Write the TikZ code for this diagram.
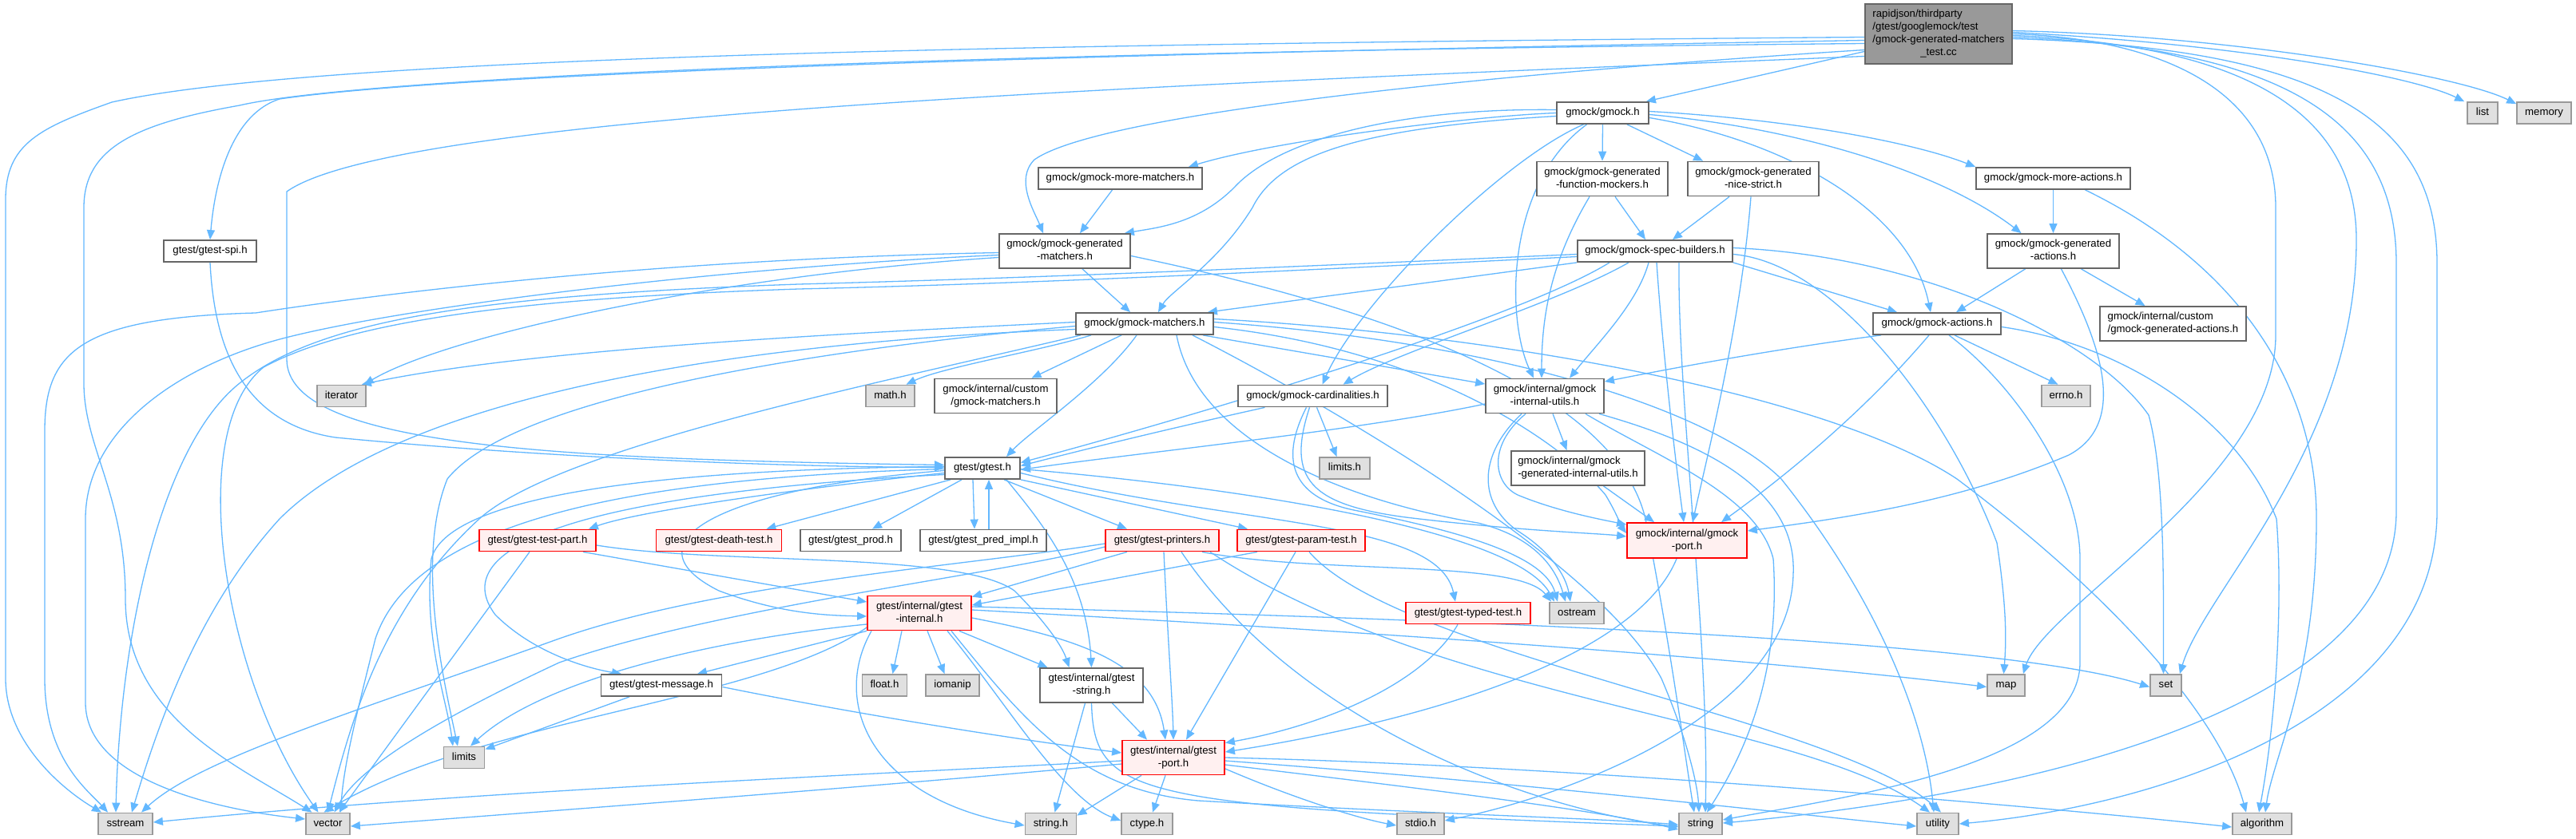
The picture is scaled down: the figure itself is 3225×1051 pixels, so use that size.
\documentclass[tikz,border=0pt]{standalone}
\usepackage{fontspec}
\setmainfont{Liberation Sans}
\usetikzlibrary{arrows.meta}
\pgfdeclarelayer{bg}
\pgfsetlayers{bg,main}
\definecolor{edgec}{HTML}{63B8FF}
\definecolor{boxline}{HTML}{666666}
\definecolor{grayfill}{HTML}{E0E0E0}
\definecolor{grayline}{HTML}{999999}
\definecolor{redline}{HTML}{FF0000}
\definecolor{redfill}{HTML}{FFF0F0}
\definecolor{mainfill}{HTML}{999999}
\newcommand{\twoln}[2]{\begin{tabular}{@{}l@{}}#1\\\multicolumn{1}{@{}c@{}}{#2}\end{tabular}}
\begin{document}
\begin{tikzpicture}[x=1pt,y=-1pt,
  nbase/.style={draw, line width=1.8pt, inner sep=0pt, font=\fontsize{13.2}{16}\selectfont, text=black},
  nw/.style={nbase, draw=boxline, fill=white},
  ng/.style={nbase, draw=grayline, fill=grayfill},
  nr/.style={nbase, draw=redline, fill=redfill},
  nm/.style={nbase, draw=boxline, fill=mainfill},
  sl/.style={text height=9.6pt, text depth=2.8pt},
  wh/.style 2 args={minimum width=#1pt, minimum height=#2pt},
  dep/.style={draw=edgec, line width=1.3pt, -{Triangle[length=12pt,width=10pt]}}]
\useasboundingbox (0,0) rectangle (3225,1051);

\node[nm,wh={184}{75}] (main) at (2427,42.5) {\begin{tabular}{@{}l@{}}rapidjson/thirdparty\\/gtest/googlemock/test\\/gmock-generated-matchers\\\multicolumn{1}{@{}c@{}}{\_test.cc}\end{tabular}};
\node[ng,sl,wh={38}{27}] (list) at (3108,141.5) {list};
\node[ng,sl,wh={68}{27}] (memory) at (3185,141.5) {memory};
\node[nw,sl,wh={115}{27}] (gmock) at (2006.5,141.5) {gmock/gmock.h};
\node[nw,sl,wh={205}{27}] (moremat) at (1402.5,223.5) {gmock/gmock-more-matchers.h};
\node[nw,wh={164}{43}] (funcmock) at (2006,224) {\twoln{gmock/gmock-generated}{-function-mockers.h}};
\node[nw,wh={164}{43}] (nicestrict) at (2195,224) {\twoln{gmock/gmock-generated}{-nice-strict.h}};
\node[nw,sl,wh={193}{27}] (moreact) at (2570.5,223.5) {gmock/gmock-more-actions.h};
\node[nw,wh={164}{43}] (genmat) at (1333,314.5) {\twoln{gmock/gmock-generated}{-matchers.h}};
\node[nw,sl,wh={194}{27}] (spec) at (2072,314.5) {gmock/gmock-spec-builders.h};
\node[nw,wh={165}{43}] (genact) at (2570.5,314.5) {\twoln{gmock/gmock-generated}{-actions.h}};
\node[nw,sl,wh={172}{27}] (gmat) at (1433,405.5) {gmock/gmock-matchers.h};
\node[nw,sl,wh={160}{27}] (gact) at (2425,405.5) {gmock/gmock-actions.h};
\node[nw,wh={183}{43}] (customact) at (2720.5,405.5) {\twoln{gmock/internal/custom}{/gmock-generated-actions.h}};
\node[ng,sl,wh={61}{27}] (iterator) at (427.5,496) {iterator};
\node[ng,sl,wh={61}{27}] (math) at (1114.5,496) {math.h};
\node[nw,wh={153}{43}] (custommat) at (1246.5,496) {\twoln{gmock/internal/custom}{/gmock-matchers.h}};
\node[nw,sl,wh={187}{27}] (card) at (1643.5,496) {gmock/gmock-cardinalities.h};
\node[nw,wh={148}{43}] (iutils) at (1934,496) {\twoln{gmock/internal/gmock}{-internal-utils.h}};
\node[ng,sl,wh={61}{27}] (errno) at (2586.5,496) {errno.h};
\node[nw,sl,wh={116}{27}] (spi) at (263,314.5) {gtest/gtest-spi.h};
\node[nw,sl,wh={94}{27}] (gtest) at (1230,586.5) {gtest/gtest.h};
\node[ng,sl,wh={63}{27}] (limitsh) at (1683.5,586.5) {limits.h};
\node[nw,wh={167}{43}] (geniutils) at (1975.5,586.5) {\twoln{gmock/internal/gmock}{-generated-internal-utils.h}};
\node[nr,sl,wh={146}{27}] (testpart) at (673,677) {gtest/gtest-test-part.h};
\node[nr,sl,wh={157}{27}] (death) at (900,677) {gtest/gtest-death-test.h};
\node[nw,sl,wh={126}{27}] (prod) at (1065,677) {gtest/gtest\_prod.h};
\node[nw,sl,wh={158}{27}] (predimpl) at (1231,677) {gtest/gtest\_pred\_impl.h};
\node[nr,sl,wh={142}{27}] (printers) at (1455,677) {gtest/gtest-printers.h};
\node[nr,sl,wh={160}{27}] (paramtest) at (1629,677) {gtest/gtest-param-test.h};
\node[nr,wh={150}{44}] (gport) at (2112,677) {\twoln{gmock/internal/gmock}{-port.h}};
\node[nr,wh={130}{43}] (ginternal) at (1151,768) {\twoln{gtest/internal/gtest}{-internal.h}};
\node[nr,sl,wh={156}{27}] (typed) at (1838,768) {gtest/gtest-typed-test.h};
\node[ng,sl,wh={68}{27}] (ostream) at (1974,768) {ostream};
\node[nw,sl,wh={151}{27}] (message) at (828,858.5) {gtest/gtest-message.h};
\node[ng,sl,wh={56}{27}] (float) at (1107.5,858.5) {float.h};
\node[ng,sl,wh={67}{27}] (iomanip) at (1192.5,858.5) {iomanip};
\node[nw,wh={129}{43}] (gstring) at (1366.5,858.5) {\twoln{gtest/internal/gtest}{-string.h}};
\node[ng,sl,wh={47}{27}] (map) at (2511.5,858.5) {map};
\node[ng,sl,wh={39}{27}] (set) at (2711.5,858.5) {set};
\node[ng,sl,wh={51}{27}] (limits) at (581,949) {limits};
\node[nr,wh={128}{43}] (tport) at (1469,949) {\twoln{gtest/internal/gtest}{-port.h}};
\node[ng,sl,wh={68}{27}] (sstream) at (157,1032) {sstream};
\node[ng,sl,wh={55}{27}] (vector) at (410.5,1032) {vector};
\node[ng,sl,wh={64}{27}] (stringh) at (1315.5,1032) {string.h};
\node[ng,sl,wh={64}{27}] (ctype) at (1436,1032) {ctype.h};
\node[ng,sl,wh={59}{27}] (stdio) at (1778.5,1032) {stdio.h};
\node[ng,sl,wh={54}{27}] (string) at (2129,1032) {string};
\node[ng,sl,wh={52}{27}] (utility) at (2426,1032) {utility};
\node[ng,sl,wh={74}{27}] (algorithm) at (2832,1032) {algorithm};

\begin{pgfonlayer}{bg}
\fill[white] (0,0) rectangle (3225,1051);
% main
\draw[dep] ([yshift=-22pt]main.west) -- ([xshift=-4pt]gmock.north east);
\draw[dep] ([yshift=2pt]main.east) .. controls (2800,55) and (3020,95) .. ([xshift=-3pt]list.north west);
\draw[dep] ([yshift=4pt]main.east) .. controls (2800,45) and (3080,95) .. ([yshift=-3pt]memory.north west);
\draw[dep] (main.east) .. controls (2700,48) and (2849,110) .. (2849,260) -- (2849,420) .. controls (2849,600) and (2560,760) .. ([xshift=-3pt]map.north east);
\draw[dep] ([yshift=-2pt]main.east) .. controls (2790,55) and (2950,130) .. (2950,300) .. controls (2950,560) and (2760,740) .. ([xshift=-3pt]set.north east);
\draw[dep] ([yshift=-4pt]main.east) .. controls (2860,60) and (3000,150) .. (3000,330) -- (3000,640) .. controls (3000,900) and (2500,1000) .. ([yshift=1pt]string.east);
\draw[dep] ([yshift=-6pt]main.east) .. controls (2910,60) and (3051,150) .. (3051,330) -- (3051,640) .. controls (3051,900) and (2700,1010) .. (utility.east);
\draw[dep] ([yshift=-20pt]main.west) .. controls (1900,90) and (1380,140) .. (1295,200) .. controls (1270,225) and (1295,265) .. ([xshift=-27pt]genmat.north);
\draw[dep] ([yshift=-8pt]main.west) .. controls (1500,65) and (600,88) .. (350,124) .. controls (285,145) and (268,240) .. (spi.north);
\draw[dep] ([yshift=-4pt]main.west) .. controls (1300,55) and (400,70) .. (140,128) .. controls (50,160) and (7,180) .. (7,250) -- (7,850) .. controls (7,930) and (80,990) .. ([xshift=-30pt]sstream.north);
\draw[dep] ([yshift=-12pt]main.west) .. controls (1200,65) and (450,97) .. (300,132) .. controls (170,155) and (105,185) .. (105,260) -- (105,480) .. controls (105,560) and (157,620) .. (157,750) .. controls (157,900) and (300,960) .. ([xshift=-20pt]vector.north);
\draw[dep] ([yshift=-28pt]main.west) .. controls (1500,105) and (500,140) .. (359,240) -- (359,450) .. controls (359,560) and (700,575) .. ([yshift=4pt]gtest.west);
\draw[dep] (spi.south) .. controls (268,430) and (300,530) .. (420,548) .. controls (700,575) and (1000,585) .. ([yshift=1pt]gtest.west);
% gmock.h
\draw[dep] (gmock.west) .. controls (1850,145) and (1600,175) .. ([xshift=-18pt]moremat.north east);
\draw[dep] ([yshift=4pt]gmock.west) .. controls (1750,135) and (1600,175) .. (1545,235) .. controls (1500,280) and (1450,285) .. ([xshift=-8pt]genmat.north east);
\draw[dep] ([yshift=-4pt]gmock.west) .. controls (1700,160) and (1600,195) .. (1568,260) .. controls (1525,330) and (1465,365) .. ([xshift=17pt]gmat.north);
\draw[dep] (gmock.south) -- (funcmock.north);
\draw[dep] ([xshift=-28pt]gmock.south east) -- ([xshift=20pt]nicestrict.north west);
\draw[dep] ([yshift=2pt]gmock.east) .. controls (2250,150) and (2400,180) .. (moreact.north west);
\draw[dep] ([yshift=-2pt]gmock.east) .. controls (2250,160) and (2430,215) .. ([xshift=-40pt]genact.north);
\draw[dep] ([yshift=-6pt]gmock.east) .. controls (2230,175) and (2390,260) .. ([xshift=-8pt]gact.north);
\draw[dep] ([xshift=-24pt]gmock.south) .. controls (1880,200) and (1700,380) .. ([xshift=12pt]card.north);
\draw[dep] ([xshift=-20pt]gmock.south) .. controls (1885,230) and (1885,400) .. ([xshift=-14pt]iutils.north);
% second level
\draw[dep] ([xshift=-10pt]moremat.south) -- ([xshift=19pt]genmat.north);
\draw[dep] ([xshift=16pt]funcmock.south) -- ([xshift=-12pt]spec.north);
\draw[dep] ([xshift=-16pt]funcmock.south) .. controls (1940,330) and (1930,400) .. ([xshift=-4pt]iutils.north);
\draw[dep] ([xshift=-30pt]nicestrict.south) -- ([xshift=22pt]spec.north);
\draw[dep] ([xshift=-3pt]nicestrict.south) .. controls (2180,400) and (2140,560) .. ([xshift=7pt]gport.north);
\draw[dep] (moreact.south) -- (genact.north);
\draw[dep] ([xshift=40pt]moreact.south) .. controls (2800,330) and (2900,480) .. (2900,650) .. controls (2900,850) and (2845,950) .. ([xshift=4pt]algorithm.north);
\draw[dep] ([xshift=-35pt]genact.south) -- ([xshift=24pt]gact.north);
\draw[dep] ([xshift=35pt]genact.south) -- ([xshift=-35pt]customact.north);
\draw[dep] ([xshift=10pt]genact.south) .. controls (2630,430) and (2665,530) .. (2590,570) .. controls (2450,630) and (2300,650) .. ([yshift=12pt]gport.east);
% generated-matchers
\draw[dep] ([xshift=22pt]genmat.south) -- ([xshift=-18pt]gmat.north);
\draw[dep] ([yshift=-8pt]genmat.west) .. controls (900,345) and (560,420) .. ([xshift=-3pt]iterator.north east);
\draw[dep] ([yshift=-2pt]genmat.west) .. controls (800,325) and (450,372) .. (320,392) .. controls (100,398) and (56,440) .. (56,540) -- (56,850) .. controls (56,950) and (110,990) .. ([xshift=-22pt]sstream.north);
\draw[dep] ([yshift=-5pt]genmat.west) .. controls (900,335) and (500,385) .. (350,425) .. controls (220,460) and (107,540) .. (107,650) -- (107,880) .. controls (107,980) and (280,1015) .. ([yshift=6pt]vector.west);
\draw[dep] ([yshift=-6pt]genmat.east) .. controls (1700,380) and (2020,480) .. (2060,650) .. controls (2090,800) and (2110,950) .. ([xshift=-8pt]string.north);
% spec-builders
\draw[dep] (spec.south west) -- ([xshift=-8pt]gmat.north east);
\draw[dep] ([xshift=-33pt]spec.south) .. controls (1950,380) and (1750,440) .. ([xshift=38pt]card.north);
\draw[dep] ([xshift=-8pt]spec.south) .. controls (2050,380) and (2000,430) .. ([xshift=31pt]iutils.north);
\draw[dep] (spec.south east) -- ([xshift=-50pt]gact.north);
\draw[dep] ([xshift=2pt]spec.south) .. controls (2080,420) and (2095,560) .. ([xshift=-4pt]gport.north);
\draw[dep] ([xshift=-57pt]spec.south) .. controls (1900,400) and (1500,520) .. ([yshift=7pt]gtest.east);
\draw[dep] ([yshift=-4pt]spec.east) .. controls (2300,330) and (2440,520) .. (2500,680) .. controls (2512,760) and (2512,800) .. ([xshift=-3pt]map.north);
\draw[dep] ([yshift=4pt]spec.east) .. controls (2400,320) and (2620,420) .. (2690,520) .. controls (2712,600) and (2708,760) .. ([xshift=-3pt]set.north);
\draw[dep] ([yshift=-4pt]spec.west) .. controls (1600,335) and (1300,348) .. (1000,356) .. controls (600,370) and (400,400) .. (300,480) .. controls (200,560) and (150,800) .. ([xshift=-12pt]sstream.north);
\draw[dep] ([yshift=-7pt]spec.west) .. controls (1600,340) and (1300,355) .. (1000,362) .. controls (700,372) and (450,395) .. (330,460) .. controls (230,540) and (280,850) .. ([xshift=-12pt]vector.north);
\draw[dep] ([xshift=30pt]spec.south) .. controls (2100,500) and (2140,800) .. ([xshift=6pt]string.north);
% gmock-matchers
\draw[dep] ([xshift=-67pt]gmat.south) .. controls (1300,440) and (1180,460) .. ([xshift=20pt]math.north);
\draw[dep] ([xshift=-29pt]gmat.south) -- ([xshift=45pt]custommat.north);
\draw[dep] ([yshift=2pt]gmat.west) .. controls (1000,420) and (650,440) .. ([xshift=-6pt]iterator.north east);
\draw[dep] ([yshift=-3pt]gmat.west) .. controls (1000,440) and (640,500) .. (560,600) .. controls (520,700) and (555,850) .. ([xshift=-8pt]limits.north);
\draw[dep] ([xshift=40pt]gmat.south) .. controls (1500,560) and (1700,630) .. (1850,655) .. controls (1930,675) and (1950,720) .. ([xshift=-14pt]ostream.north);
\draw[dep] ([yshift=-7pt]gmat.west) .. controls (900,430) and (500,500) .. (350,650) .. controls (250,760) and (200,900) .. ([xshift=8pt]sstream.north);
\draw[dep] ([xshift=-80pt]gmat.south) .. controls (1100,480) and (700,560) .. (600,650) .. controls (480,760) and (440,900) .. (vector.north);
\draw[dep] ([xshift=60pt]gmat.south) .. controls (1650,500) and (2000,700) .. (2080,850) .. controls (2110,920) and (2125,980) .. ([xshift=-2pt]string.north);
\draw[dep] ([yshift=2pt]gmat.east) .. controls (1900,430) and (2150,520) .. (2230,600) .. controls (2350,750) and (2410,900) .. ([xshift=-5pt]utility.north);
\draw[dep] ([yshift=6pt]gmat.east) .. controls (1900,420) and (2300,500) .. (2450,600) .. controls (2650,750) and (2780,900) .. ([xshift=-20pt]algorithm.north);
\draw[dep] ([xshift=73pt]gmat.south) -- ([yshift=15pt]iutils.west);
\draw[dep] ([yshift=-4pt]gmat.east) .. controls (1800,440) and (1960,560) .. (2010,620) .. controls (2025,645) and (2030,660) .. ([yshift=9pt]gport.west);
\draw[dep] ([xshift=-10pt]gmat.south) .. controls (1380,480) and (1290,540) .. ([xshift=30pt]gtest.north);
% gmock-actions
\draw[dep] ([xshift=22pt]gact.south) -- ([xshift=-10pt]errno.north);
\draw[dep] ([xshift=-70pt]gact.south) .. controls (2200,440) and (2050,470) .. ([yshift=18pt]iutils.east);
\draw[dep] ([xshift=-10pt]gact.south) .. controls (2330,520) and (2230,600) .. ([xshift=43pt]gport.north);
\draw[dep] ([xshift=15pt]gact.south) .. controls (2520,480) and (2604,600) .. (2604,700) -- (2604,830) .. controls (2604,960) and (2300,1000) .. ([yshift=5pt]string.east);
\draw[dep] ([yshift=-4pt]gact.east) .. controls (2650,430) and (2800,520) .. (2850,650) .. controls (2858,750) and (2850,900) .. ([xshift=-4pt]algorithm.north);
% cardinalities
\draw[dep] ([xshift=5pt]card.south) -- ([xshift=-10pt]limitsh.north);
\draw[dep] ([xshift=-8pt]card.south) .. controls (1600,580) and (1620,625) .. (1700,640) .. controls (1850,670) and (1935,700) .. ([xshift=-24pt]ostream.north);
\draw[dep] ([xshift=-4pt]card.south) .. controls (1610,600) and (1640,632) .. (1760,648) .. controls (1900,665) and (2000,668) .. ([yshift=5pt]gport.west);
\draw[dep] ([xshift=-60pt]card.south) .. controls (1450,540) and (1350,565) .. ([yshift=3pt]gtest.east);
% internal-utils
\draw[dep] ([xshift=10pt]iutils.south) -- ([xshift=-14pt]geniutils.north);
\draw[dep] ([xshift=-29pt]iutils.south) .. controls (1850,570) and (1850,630) .. (1900,665) .. controls (1940,690) and (1960,720) .. ([xshift=-8pt]ostream.north);
\draw[dep] ([xshift=-24pt]iutils.south) .. controls (1860,560) and (1870,610) .. (1905,622) .. controls (1950,640) and (2000,650) .. ([yshift=-3pt]gport.north west);
\draw[dep] ([xshift=51pt]iutils.south) .. controls (2080,575) and (2200,620) .. (2220,700) .. controls (2230,850) and (2180,950) .. ([xshift=8pt]string.north);
\draw[dep] ([xshift=68pt]iutils.south) .. controls (2150,560) and (2250,620) .. (2245,720) .. controls (2240,900) and (1950,1000) .. ([yshift=4pt]stdio.east);
\draw[dep] ([yshift=-10pt]iutils.west) .. controls (1700,540) and (1400,570) .. ([yshift=-2pt]gtest.east);
\draw[dep] ([xshift=32pt]geniutils.south) -- ([xshift=-41pt]gport.north);
\draw[dep] ([xshift=-13pt]gport.south) .. controls (2050,820) and (1800,900) .. ([yshift=7pt]tport.east);
% gtest.h
\draw[dep] ([yshift=-6pt]gtest.west) .. controls (1000,612) and (800,640) .. ([xshift=-10pt]testpart.north east);
\draw[dep] ([xshift=-40pt]gtest.south) -- ([xshift=-20pt]death.north east);
\draw[dep] ([xshift=-26pt]gtest.south) -- ([xshift=27pt]prod.north);
\draw[dep] ([xshift=-12pt]gtest.south) -- ([xshift=-11pt]predimpl.north);
\draw[dep] ([xshift=7pt]predimpl.north) -- ([xshift=8pt]gtest.south);
\draw[dep] ([xshift=27pt]gtest.south) -- ([xshift=-44pt]printers.north);
\draw[dep] (gtest.south east) -- ([xshift=-67pt]paramtest.north);
\draw[dep] ([yshift=-6pt]gtest.east) .. controls (1550,660) and (1800,650) .. ([xshift=-16pt]typed.north);
\draw[dep] ([yshift=-1pt]gtest.east) .. controls (1600,615) and (1900,670) .. ([xshift=-28pt]ostream.north);
\draw[dep] ([yshift=-1pt]gtest.west) .. controls (800,598) and (520,650) .. (470,800) .. controls (445,900) and (430,960) .. ([xshift=16pt]vector.north);
\draw[dep] ([yshift=2pt]gtest.west) .. controls (800,588) and (560,625) .. (540,700) .. controls (530,800) and (560,880) .. ([xshift=-14pt]limits.north);
\draw[dep] ([yshift=-3pt]gtest.west) .. controls (900,612) and (780,680) .. (900,740) .. controls (980,770) and (1040,771) .. ([yshift=-4pt]ginternal.west);
\draw[dep] ([yshift=-8pt]gtest.west) .. controls (700,620) and (560,690) .. (620,770) .. controls (670,820) and (740,838) .. ([xshift=-50pt]message.north);
\draw[dep] ([xshift=30pt]gtest.south) .. controls (1300,650) and (1360,720) .. (gstring.north);
% test-part
\draw[dep] ([xshift=-10pt]testpart.south) -- ([xshift=14pt]vector.north);
\draw[dep] ([xshift=57pt]testpart.south) -- ([yshift=14pt]ginternal.west);
\draw[dep] ([yshift=-6pt]testpart.east) .. controls (900,708) and (1200,690) .. (1270,740) .. controls (1310,780) and (1330,810) .. ([xshift=-28pt]gstring.north);
% printers
\draw[dep] ([xshift=-44pt]printers.south) -- ([yshift=-2pt]ginternal.north east);
\draw[dep] ([xshift=2pt]printers.south) .. controls (1462,800) and (1468,880) .. (tport.north);
\draw[dep] ([xshift=24pt]printers.south) .. controls (1620,900) and (1900,1010) .. ([yshift=-4pt]string.west);
\draw[dep] ([xshift=50pt]printers.south) .. controls (1650,720) and (1900,700) .. ([xshift=-32pt]ostream.north);
\draw[dep] ([xshift=60pt]printers.south) .. controls (1800,880) and (2250,900) .. ([xshift=-10pt]utility.north);
\draw[dep] ([yshift=-4pt]printers.west) .. controls (1200,710) and (900,730) .. (700,800) .. controls (450,890) and (250,950) .. ([xshift=20pt]sstream.north);
\draw[dep] ([yshift=-8pt]printers.west) .. controls (1250,720) and (900,760) .. (700,830) .. controls (550,900) and (450,960) .. ([xshift=8pt]vector.north);
% param-test
\draw[dep] ([xshift=-55pt]paramtest.south) -- ([yshift=10pt]ginternal.east);
\draw[dep] ([xshift=-7pt]paramtest.south) -- ([xshift=16pt]tport.north);
\draw[dep] ([xshift=10pt]paramtest.south) .. controls (1750,820) and (2300,900) .. ([xshift=4pt]utility.north);
% typed-test, message
\draw[dep] ([xshift=-13pt]typed.south) .. controls (1780,860) and (1650,910) .. ([yshift=-4pt]tport.north east);
\draw[dep] ([xshift=-40pt]message.south) -- ([yshift=-4pt]limits.north east);
\draw[dep] ([yshift=-2pt]message.east) .. controls (1100,900) and (1300,930) .. ([yshift=6pt]tport.west);
% gtest-internal
\draw[dep] ([xshift=-22pt]ginternal.south) -- ([xshift=10pt]float.north);
\draw[dep] ([xshift=10pt]ginternal.south) -- ([xshift=-10pt]iomanip.north);
\draw[dep] ([xshift=50pt]ginternal.south) -- ([xshift=-55pt]gstring.north);
\draw[dep] ([yshift=-6pt]ginternal.east) .. controls (1350,800) and (1445,830) .. ([xshift=-10pt]tport.north);
\draw[dep] (ginternal.south west) -- ([xshift=45pt]message.north);
\draw[dep] ([yshift=-14pt]ginternal.west) .. controls (900,800) and (680,850) .. ([xshift=8pt]limits.north);
\draw[dep] ([yshift=4pt]ginternal.east) .. controls (1700,790) and (2200,825) .. ([yshift=-2pt]map.west);
\draw[dep] ([yshift=8pt]ginternal.east) .. controls (1800,775) and (2500,800) .. ([yshift=-2pt]set.west);
\draw[dep] ([xshift=40pt]ginternal.south) .. controls (1280,900) and (1350,990) .. (1500,1003) .. controls (1800,1020) and (2000,1025) .. ([yshift=-1pt]string.west);
\draw[dep] ([yshift=-18pt]ginternal.west) .. controls (950,880) and (600,900) .. ([xshift=-5pt]vector.north);
\draw[dep] ([xshift=35pt]ginternal.south) .. controls (1260,880) and (1330,1000) .. ([yshift=4pt]ctype.west);
\draw[dep] ([xshift=-60pt]ginternal.south) .. controls (1040,880) and (1090,1000) .. ([yshift=-2pt]stringh.west);
% gtest-string
\draw[dep] ([xshift=-8pt]gstring.south) -- ([xshift=5pt]stringh.north);
\draw[dep] (gstring.south) .. controls (1370,1000) and (1420,1010) .. ([yshift=-3pt]string.west);
\draw[dep] ([xshift=26pt]gstring.south) -- ([xshift=-33pt]tport.north);
% gtest-port
\draw[dep] ([xshift=-40pt]tport.south) -- ([yshift=-4pt]stringh.north east);
\draw[dep] ([xshift=-10pt]tport.south) -- ([xshift=7pt]ctype.north);
\draw[dep] ([yshift=-14pt]tport.east) .. controls (1620,1000) and (1700,1025) .. ([yshift=-2pt]stdio.west);
\draw[dep] ([yshift=-9pt]tport.east) .. controls (1800,990) and (2000,1015) .. ([yshift=-7pt]string.west);
\draw[dep] ([yshift=-4pt]tport.east) .. controls (1900,980) and (2200,1015) .. ([yshift=-3pt]utility.west);
\draw[dep] (tport.east) .. controls (2000,960) and (2600,1015) .. ([yshift=-4pt]algorithm.west);
\draw[dep] ([yshift=-4pt]tport.west) .. controls (1100,970) and (600,990) .. ([yshift=2pt]sstream.east);
\draw[dep] ([yshift=-8pt]tport.west) .. controls (1100,985) and (700,1015) .. ([yshift=-3pt]vector.east);
\end{pgfonlayer}
\end{tikzpicture}
\end{document}
